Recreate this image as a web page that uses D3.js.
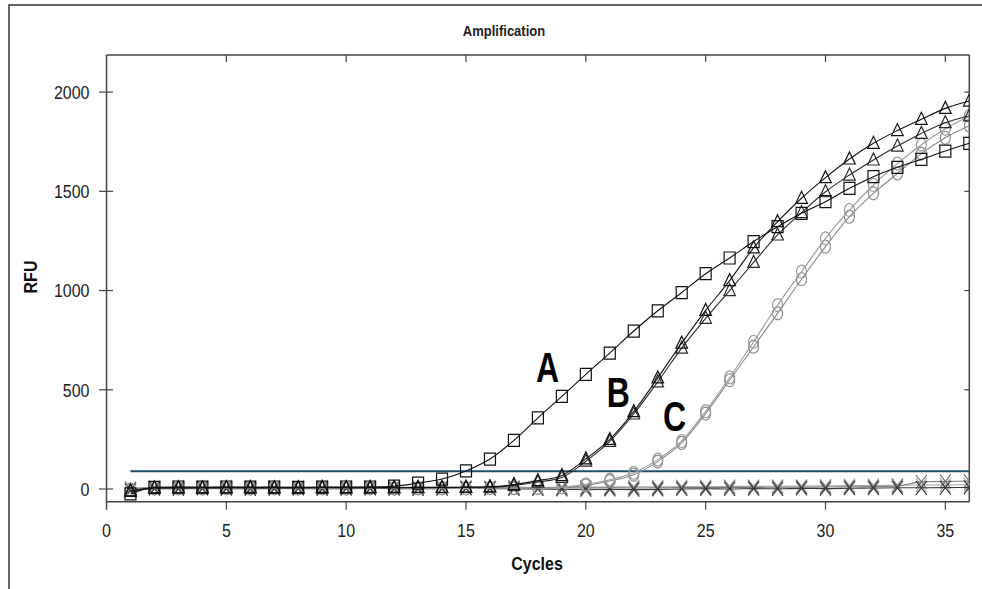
<!DOCTYPE html>
<html><head><meta charset="utf-8">
<script src="https://cdn.jsdelivr.net/npm/d3@7"></script>
<style>body{margin:0;background:#fff} svg{display:block;font-family:"Liberation Sans",Arial,sans-serif}</style>
</head><body>
<svg id="chart" width="982" height="589"></svg>
<script>
// ---- data ----
const cycles = d3.range(1, 37);
const xTicks = [0, 5, 10, 15, 20, 25, 30, 35];
const yTicks = [0, 500, 1000, 1500, 2000];
const threshold = 90;

const seriesA  = [-25, 8, 10, 9, 10, 9, 10, 8, 9, 10, 10, 14, 30, 50, 91, 151, 245, 358, 467, 578, 685, 796, 898, 990, 1085, 1164, 1247, 1322, 1389, 1448, 1515, 1574, 1621, 1661, 1703, 1742];
const seriesB1 = [-12, 6, 7, 6, 7, 8, 6, 7, 8, 7, 8, 7, 8, 8, 9, 11, 22, 42, 68, 152, 250, 390, 560, 735, 900, 1050, 1215, 1347, 1465, 1569, 1663, 1742, 1806, 1863, 1918, 1955];
const seriesB2 = [-8, 4, 5, 5, 6, 5, 6, 5, 6, 6, 5, 6, 7, 7, 8, 9, 18, 35, 58, 140, 240, 378, 540, 710, 860, 1000, 1142, 1280, 1393, 1498, 1582, 1658, 1728, 1792, 1846, 1880];
const seriesC1 = [-5, 3, 4, 3, 4, 3, 4, 3, 4, 3, 4, 3, 4, 4, 4, 5, 5, 6, 10, 24, 47, 82, 148, 242, 392, 562, 742, 927, 1095, 1263, 1406, 1532, 1640, 1735, 1815, 1880];
const seriesC2 = [-3, 2, 3, 2, 3, 2, 3, 2, 3, 2, 3, 2, 3, 3, 3, 4, 4, 5, 8, 18, 40, 72, 138, 232, 380, 548, 717, 885, 1057, 1221, 1372, 1490, 1590, 1690, 1770, 1830];
const seriesN1 = [-8, 2, 1, 3, 2, 1, 2, 3, 1, 2, 3, 2, 1, 2, 3, 2, 1, 0, -2, -3, -2, -3, -2, 0, 1, 0, 2, 1, 3, 2, 4, 5, 6, 6, 7, 8];
const seriesN2 = [0, 5, 6, 5, 6, 5, 6, 5, 6, 5, 6, 5, 6, 5, 6, 5, 6, 5, 6, 5, 6, 5, 6, 7, 7, 8, 8, 9, 9, 10, 11, 12, 15, 36, 38, 40];
const seriesN3 = [3, 8, 9, 8, 9, 8, 9, 8, 9, 8, 9, 8, 9, 8, 9, 8, 9, 8, 9, 10, 10, 11, 11, 12, 12, 13, 13, 14, 15, 16, 17, 18, 19, 20, 21, 22];

const seriesList = [
  {values: seriesN3, marker: "x", color: "#aaaaaa"},
  {values: seriesN2, marker: "x", color: "#777777"},
  {values: seriesN1, marker: "x", color: "#3a3a3a"},
  {values: seriesC2, marker: "circle", color: "#8a8a8a"},
  {values: seriesC1, marker: "circle", color: "#9a9a9a"},
  {values: seriesB2, marker: "triangle", color: "#2a2a2a"},
  {values: seriesB1, marker: "triangle", color: "#111111"},
  {values: seriesA,  marker: "square", color: "#111111"}
];
const labels = [
  {text: "A", cycle: 18.4, value: 541},
  {text: "B", cycle: 21.35, value: 415},
  {text: "C", cycle: 23.7, value: 293}
];

// ---- layout ----
const svg = d3.select("#chart");
const L = 106.5, R = 969.3, T = 55, B = 501.7;
const x = d3.scaleLinear().domain([0, 36]).range([L, R]);
const y = d3.scaleLinear().domain([-64, 2187]).range([B, T]);

// outer frame
svg.append("path").attr("d", `M9,589 V5 H982`).attr("fill", "none").attr("stroke", "#333").attr("stroke-width", 1.5);

// title
svg.append("text").attr("transform", "translate(504,36) scale(1,1.1)").attr("text-anchor", "middle")
  .attr("font-size", 13).attr("font-weight", "bold").attr("fill", "#222").text("Amplification");

// plot box
const axisColor = "#444";
svg.append("line").attr("x1", L).attr("x2", R).attr("y1", T).attr("y2", T).attr("stroke", axisColor).attr("stroke-width", 1.5);
svg.append("line").attr("x1", L).attr("x2", R).attr("y1", B).attr("y2", B).attr("stroke", axisColor).attr("stroke-width", 1.5);
svg.append("line").attr("x1", L).attr("x2", L).attr("y1", T).attr("y2", B + 8).attr("stroke", axisColor).attr("stroke-width", 1.5);
svg.append("line").attr("x1", R).attr("x2", R).attr("y1", T).attr("y2", B).attr("stroke", axisColor).attr("stroke-width", 1.5);

// x ticks
const gx = svg.append("g");
xTicks.forEach(t => {
  const px = x(t);
  if (t > 0) {
    gx.append("line").attr("x1", px).attr("x2", px).attr("y1", B).attr("y2", B + 8).attr("stroke", axisColor).attr("stroke-width", 1.2);
    gx.append("line").attr("x1", px).attr("x2", px).attr("y1", T).attr("y2", T + 7).attr("stroke", axisColor).attr("stroke-width", 1.2);
  }
  gx.append("text").attr("transform", `translate(${px},${537}) scale(1,1.2)`)
    .attr("text-anchor", "middle").attr("font-size", 16).attr("fill", "#222").text(t);
});
// y ticks
const gy = svg.append("g");
yTicks.forEach(t => {
  const py = y(t);
  gy.append("line").attr("x1", L - 7.5).attr("x2", L + 6.5).attr("y1", py).attr("y2", py).attr("stroke", axisColor).attr("stroke-width", 1.2);
  gy.append("line").attr("x1", R - 5).attr("x2", R).attr("y1", py).attr("y2", py).attr("stroke", axisColor).attr("stroke-width", 1.2);
  gy.append("text").attr("transform", `translate(${89.5},${py + 6.9}) scale(1,1.2)`)
    .attr("text-anchor", "end").attr("font-size", 16).attr("fill", "#222").text(t);
});

// axis titles
svg.append("text").attr("transform", `translate(537,569.5) scale(1,1.15)`).attr("text-anchor", "middle")
  .attr("font-size", 16).attr("font-weight", "bold").attr("fill", "#111").text("Cycles");
svg.append("text").attr("transform", `translate(37,277) rotate(-90) scale(1,1.1)`).attr("text-anchor", "middle")
  .attr("font-size", 16).attr("font-weight", "bold").attr("fill", "#111").text("RFU");

// clip
svg.append("defs").append("clipPath").attr("id", "plotclip")
  .append("rect").attr("x", L).attr("y", T).attr("width", R - L).attr("height", B - T);
const plot = svg.append("g").attr("clip-path", "url(#plotclip)");

// threshold
plot.append("line").attr("x1", x(1)).attr("x2", x(36)).attr("y1", y(threshold)).attr("y2", y(threshold))
  .attr("stroke", "#1d4f6e").attr("stroke-width", 2);

// markers
function markerPath(kind) {
  switch (kind) {
    case "square": return "M-5.5,-6H5.5V6H-5.5Z";
    case "triangle": return "M0,-7L5.8,5H-5.8Z";
    case "circle": return "M-5,0A5,6.5 0 1,0 5,0A5,6.5 0 1,0 -5,0Z";
    case "x": return "M-5.5,-7L5.5,7M-5.5,7L5.5,-7";
  }
}
const line = d3.line().x((d, i) => x(cycles[i])).y(d => y(d)).curve(d3.curveMonotoneX);

seriesList.forEach(s => {
  const g = plot.append("g");
  g.append("path").attr("d", line(s.values)).attr("fill", "none").attr("stroke", s.color).attr("stroke-width", 1.1);
  g.selectAll("path.m").data(s.values).enter().append("path").attr("class", "m")
    .attr("transform", (d, i) => `translate(${x(cycles[i])},${y(d)})`)
    .attr("d", markerPath(s.marker)).attr("fill", "none").attr("stroke", s.color).attr("stroke-width", 1.2);
});

// annotations
labels.forEach(l => {
  svg.append("text").attr("transform", `translate(${x(l.cycle)},${y(l.value)}) scale(1,1.3)`)
    .attr("text-anchor", "middle").attr("font-size", 32).attr("font-weight", "bold").attr("fill", "#000").text(l.text);
});
</script>
</body></html>
